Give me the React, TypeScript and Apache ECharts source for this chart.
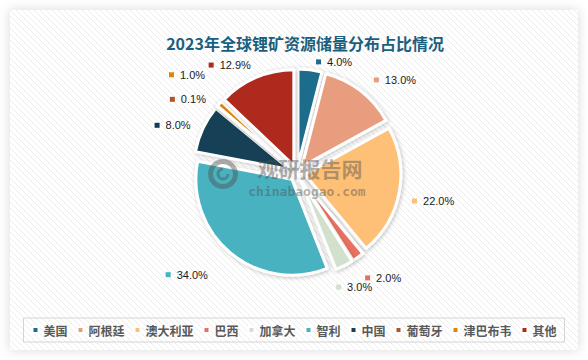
import React, { useEffect, useRef } from "react";
import * as echarts from "echarts";

const titleText = "2023年全球锂矿资源储量分布占比情况";
const categories = ["美国", "阿根廷", "澳大利亚", "巴西", "加拿大", "智利", "中国", "葡萄牙", "津巴布韦", "其他"];
const shares = [4.0, 13.0, 22.0, 2.0, 3.0, 34.0, 8.0, 0.1, 1.0, 12.9];
const colors = ["#1E6C8C", "#E89D7E", "#FDC076", "#EA6F5F", "#D1E1CD", "#49B2C0", "#123F55", "#B5532A", "#E0830A", "#AD2B1E"];
// styling only: distance of each outside label from its slice, and small label nudges
const labelGaps = [8, 10, 8, 17, 24, 28, 8, 8, 30, 8];
const labelNudgeX = [0, 2, 0, -8, -24, 0, 0, 0, 13, 3];
const labelNudgeY = [0, -3, 7, 7, 0, 0, 0, -2, -9, -5];

const stripeSvg =
  "data:image/svg+xml;utf8," +
  encodeURIComponent(
    '<svg xmlns="http://www.w3.org/2000/svg" width="6" height="6"><path d="M-1,-1 L7,7 M-1,5 L1,7 M5,-1 L7,1" stroke="#ececec" stroke-width="1"/></svg>'
  );

export default function App() {
  const ref = useRef<HTMLDivElement>(null);
  useEffect(() => {
    if (!ref.current) return;
    const chart = echarts.init(ref.current, undefined, { renderer: "svg" });
    const rich: Record<string, any> = {
      v: { fontSize: 11, color: "#1a1a1a", fontFamily: "Liberation Sans", padding: [0, 0, 0, 6] },
    };
    colors.forEach((c, i) => {
      rich["m" + i] = { width: 5, height: 5, backgroundColor: c };
    });
    const wm = "rgba(80,80,80,0.45)";
    const option: any = {
      animation: false,
      backgroundColor: "#ffffff",
      title: {
        text: titleText,
        left: 300,
        textAlign: "center",
        top: 30,
        textStyle: { fontSize: 16, fontWeight: "bold", color: "#1B5F7E", fontFamily: "Noto Sans CJK SC" },
      },
      legend: {
        data: categories,
        left: "center",
        top: 318,
        icon: "rect",
        itemWidth: 6,
        itemHeight: 6,
        itemGap: 9,
        borderColor: "#d4d4d4",
        borderWidth: 1,
        padding: [6, 8],
        textStyle: { fontSize: 12, fontWeight: "bold", color: "#595959", fontFamily: "Noto Sans CJK SC" },
      },
      graphic: [
        {
          type: "rect",
          silent: true,
          z: -10,
          shape: { x: 10, y: 10, width: 568, height: 340 },
          style: { fill: "#ffffff", shadowBlur: 12, shadowColor: "rgba(0,0,0,0.15)" },
        },
        {
          type: "rect",
          silent: true,
          z: -9,
          shape: { x: 10, y: 10, width: 568, height: 340 },
          style: { fill: { image: stripeSvg, repeat: "repeat" } as any },
        },
        {
          type: "ring",
          silent: true,
          z: 100,
          shape: { cx: 223, cy: 174, r: 15, r0: 10 },
          style: { fill: wm },
        },
        {
          type: "arc",
          silent: true,
          z: 100,
          shape: { cx: 223, cy: 174, r: 5, startAngle: 0, endAngle: Math.PI * 1.5 },
          style: { stroke: wm, lineWidth: 3, fill: "none" },
        },
        {
          type: "text",
          silent: true,
          z: 100,
          x: 310,
          y: 168,
          style: {
            text: "观研报告网",
            align: "center",
            verticalAlign: "middle",
            font: "bold 21px 'Noto Sans CJK SC'",
            fill: wm,
          },
        },
        {
          type: "text",
          silent: true,
          z: 100,
          x: 307,
          y: 191,
          style: {
            text: "chinabaogao.com",
            align: "center",
            verticalAlign: "middle",
            font: "bold 13px 'DejaVu Sans Mono'",
            fill: wm,
          },
        },
      ],
      series: [
        {
          type: "pie",
          center: [297, 173],
          radius: [0, 96],
          startAngle: 90,
          clockwise: true,
          selectedMode: "multiple",
          selectedOffset: 8,
          avoidLabelOverlap: false,
          itemStyle: {
            borderColor: "#ffffff",
            borderWidth: 3,
            shadowBlur: 4,
            shadowColor: "rgba(0,0,0,0.25)",
            shadowOffsetX: 1,
            shadowOffsetY: 1,
          },
          label: {
            show: true,
            position: "outside",
            formatter: (p: any) => `{m${p.dataIndex}|}{v|${Number(p.value).toFixed(1)}%}`,
            rich,
          },
          labelLine: { show: false, length: 8, length2: 0 },
          labelLayout: (p: any) => ({ dx: labelNudgeX[p.dataIndex], dy: labelNudgeY[p.dataIndex] }),
          emphasis: { disabled: true },
          data: categories.map((name, i) => ({
            name,
            value: shares[i],
            selected: true,
            itemStyle: { color: colors[i] },
            labelLine: { show: false, length: labelGaps[i], length2: 0 },
          })),
        },
      ],
    };
    chart.setOption(option);
    return () => chart.dispose();
  }, []);
  return <div ref={ref} style={{ position: "fixed", left: 0, top: 0, width: 588, height: 360 }} />;
}
